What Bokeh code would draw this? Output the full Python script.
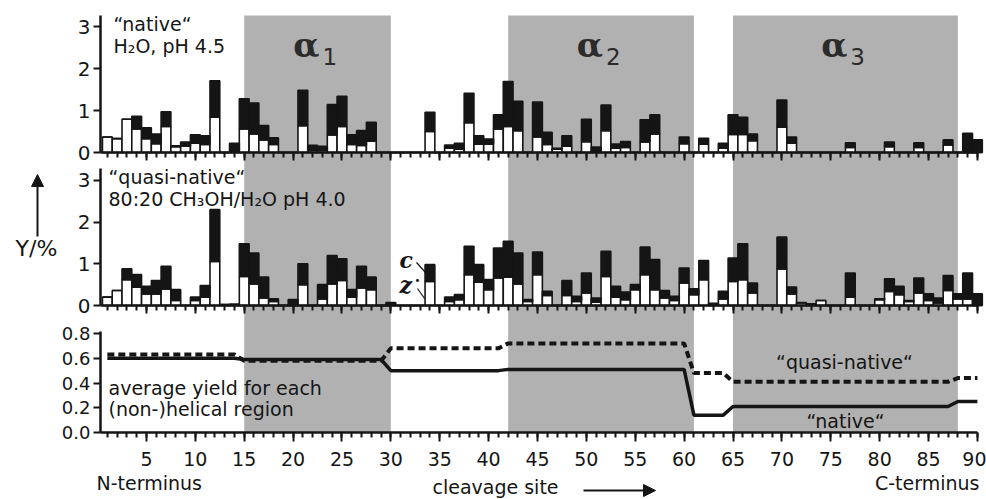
from bokeh.plotting import figure
from bokeh.models import (Range1d, LinearAxis, FixedTicker, Label, Arrow, NormalHead,
                          ColumnDataSource, PrintfTickFormatter)
from bokeh.embed import file_html
from bokeh.resources import INLINE

# ---------------- data ----------------
sites = list(range(1, 91))
native_z = [0.37, 0.33, 0.79, 0.56, 0.33, 0.21, 0.62, 0.14, 0.15, 0.22,
            0.19, 0.84, 0.00, 0.03, 0.56, 0.44, 0.30, 0.19, 0.00, 0.00,
            0.64, 0.05, 0.05, 0.42, 0.62, 0.19, 0.17, 0.27, 0.00, 0.00,
            0.00, 0.00, 0.00, 0.50, 0.00, 0.10, 0.08, 0.71, 0.20, 0.20,
            0.56, 0.62, 0.52, 0.00, 0.37, 0.19, 0.08, 0.15, 0.00, 0.26,
            0.03, 0.52, 0.10, 0.12, 0.00, 0.25, 0.44, 0.00, 0.00, 0.21,
            0.00, 0.20, 0.00, 0.10, 0.43, 0.43, 0.28, 0.00, 0.00, 0.60,
            0.22, 0.00, 0.00, 0.00, 0.00, 0.00, 0.12, 0.00, 0.00, 0.00,
            0.14, 0.00, 0.00, 0.12, 0.00, 0.00, 0.18, 0.00, 0.00, 0.00]
native_c = [0.00, 0.00, 0.00, 0.30, 0.26, 0.23, 0.35, 0.02, 0.10, 0.20,
            0.21, 0.87, 0.00, 0.19, 0.72, 0.74, 0.34, 0.16, 0.00, 0.00,
            0.84, 0.12, 0.10, 0.72, 0.72, 0.23, 0.35, 0.45, 0.00, 0.00,
            0.00, 0.00, 0.00, 0.46, 0.00, 0.08, 0.14, 0.70, 0.20, 0.12,
            0.34, 1.07, 0.70, 0.00, 0.83, 0.29, 0.02, 0.25, 0.00, 0.53,
            0.10, 0.61, 0.10, 0.14, 0.00, 0.53, 0.46, 0.00, 0.00, 0.16,
            0.00, 0.14, 0.00, 0.12, 0.47, 0.41, 0.16, 0.00, 0.00, 0.65,
            0.15, 0.00, 0.00, 0.00, 0.00, 0.00, 0.11, 0.00, 0.00, 0.00,
            0.11, 0.00, 0.00, 0.11, 0.00, 0.00, 0.12, 0.00, 0.46, 0.30]
quasi_z = [0.20, 0.36, 0.62, 0.44, 0.28, 0.28, 0.40, 0.12, 0.00, 0.12,
           0.20, 1.06, 0.02, 0.03, 0.70, 0.52, 0.18, 0.10, 0.00, 0.00,
           0.50, 0.00, 0.16, 0.52, 0.60, 0.20, 0.42, 0.38, 0.00, 0.00,
           0.00, 0.00, 0.00, 0.58, 0.00, 0.10, 0.14, 0.74, 0.56, 0.38,
           0.66, 0.68, 0.52, 0.10, 0.74, 0.24, 0.00, 0.24, 0.10, 0.30,
           0.08, 0.70, 0.20, 0.14, 0.38, 0.74, 0.38, 0.18, 0.12, 0.54,
           0.26, 0.62, 0.00, 0.16, 0.58, 0.62, 0.30, 0.00, 0.00, 0.88,
           0.28, 0.06, 0.04, 0.12, 0.00, 0.00, 0.20, 0.00, 0.00, 0.14,
           0.34, 0.26, 0.10, 0.30, 0.12, 0.06, 0.36, 0.16, 0.16, 0.00]
quasi_c = [0.00, 0.00, 0.26, 0.30, 0.18, 0.32, 0.54, 0.26, 0.00, 0.08,
           0.28, 1.24, 0.00, 0.00, 0.78, 0.74, 0.50, 0.06, 0.00, 0.14,
           0.50, 0.00, 0.34, 0.68, 0.52, 0.18, 0.52, 0.30, 0.00, 0.07,
           0.00, 0.00, 0.00, 0.40, 0.00, 0.10, 0.12, 0.68, 0.42, 0.24,
           0.72, 0.86, 0.74, 0.04, 0.54, 0.10, 0.00, 0.36, 0.12, 0.48,
           0.10, 0.60, 0.26, 0.18, 0.12, 0.66, 0.72, 0.18, 0.10, 0.36,
           0.14, 0.46, 0.05, 0.18, 0.56, 0.86, 0.24, 0.00, 0.00, 0.76,
           0.16, 0.01, 0.00, 0.00, 0.00, 0.00, 0.58, 0.00, 0.00, 0.02,
           0.30, 0.20, 0.02, 0.36, 0.16, 0.12, 0.36, 0.12, 0.62, 0.28]

helix_labels = ["1", "2", "3"]
helix_start = [15, 42, 65]
helix_end = [30, 61, 88]

region_first = [1, 15, 30, 42, 61, 65, 88]
region_last = [14, 29, 41, 60, 64, 87, 90]
native_avg = [0.60, 0.59, 0.50, 0.51, 0.14, 0.21, 0.25]
quasi_avg = [0.63, 0.58, 0.68, 0.72, 0.48, 0.41, 0.44]

x_major_ticks = list(range(5, 91, 5))
bar_y_ticks = [0, 1, 2, 3]
avg_y_ticks = [0.0, 0.2, 0.4, 0.6, 0.8]

# ---------------- geometry (whole canvas is the frame) ----------------
W, H = 986, 499
FONT = "DejaVu Sans"
INK = "#151515"
SHADE = "#b1b1b1"
PXU = 9.776            # pixels per cleavage site
X0 = 0.3               # site value at the y-axis spines (pixel 100)
SPINE_PX = 100
AXIS_BOTTOM_PX = 432   # bottom panel zero line
Y_SCALE = 123.75       # px per unit, bottom panel
TOP_PX = 15            # top of shaded area / panels
top_zero, top_scale = 152, 42.0
mid_zero, mid_scale = 305, 41.67


def xd(px):
    return X0 + (px - SPINE_PX) / PXU


def yd(py):
    return (AXIS_BOTTOM_PX - py) / Y_SCALE


p = figure(width=W, height=H, x_range=Range1d(xd(0), xd(W)), y_range=Range1d(yd(H), yd(0)),
           output_backend="svg", toolbar_location=None,
           x_axis_location=None, y_axis_location=None, min_border=0)
p.title.visible = False
p.outline_line_color = None
p.xgrid.visible = False
p.ygrid.visible = False
p.background_fill_color = "white"
p.border_fill_color = "white"

p.extra_y_ranges = {
    "top": Range1d((top_zero - H) / top_scale, top_zero / top_scale),
    "mid": Range1d((mid_zero - H) / mid_scale, mid_zero / mid_scale),
}

# shaded helix regions
p.quad(left=helix_start, right=helix_end, bottom=0, top=yd(TOP_PX),
       fill_color=SHADE, line_color=None, level="underlay")


# bars: white = z-ions, black = c-ions stacked on top
def add_bars(zv, cv, rng):
    src = ColumnDataSource(dict(site=sites, z=zv, zc=[a + b for a, b in zip(zv, cv)]))
    p.vbar(x="site", width=1.0, bottom=0, top="z", source=src, y_range_name=rng,
           fill_color="white", line_color=INK, line_width=1.6)
    p.vbar(x="site", width=1.0, bottom="z", top="zc", source=src, y_range_name=rng,
           fill_color=INK, line_color=INK, line_width=1.6)


add_bars(native_z, native_c, "top")
add_bars(quasi_z, quasi_c, "mid")


# averaged yields per (non-)helical region
def steps(first, last, vals):
    xs, ys = [], []
    for f, l, v in zip(first, last, vals):
        xs += [f, l]
        ys += [v, v]
    return xs, ys


qx, qy = steps(region_first, region_last, quasi_avg)
nx, ny = steps(region_first, region_last, native_avg)
p.line(qx, qy, line_color=INK, line_width=4, line_dash="7 4")
p.line(nx, ny, line_color=INK, line_width=3.5)


# axes
def style(ax, tick_out, minor_out, size, labels=True):
    ax.axis_line_width = 2.5
    ax.axis_line_color = INK
    ax.major_tick_line_width = 2
    ax.major_tick_line_color = INK
    ax.minor_tick_line_width = 2
    ax.minor_tick_line_color = INK
    ax.major_tick_in = 0
    ax.minor_tick_in = 0
    ax.major_tick_out = tick_out
    ax.minor_tick_out = minor_out
    ax.major_label_text_font = FONT
    ax.major_label_text_font_size = f"{size}px"
    ax.major_label_text_color = INK if labels else None


xb = LinearAxis(fixed_location=0, ticker=FixedTicker(ticks=x_major_ticks, minor_ticks=sites),
                bounds=(X0, 90))
style(xb, 9, 5, 19)
xb.major_label_standoff = 10
p.add_layout(xb, "below")

for rng in ["top", "mid"]:
    ax = LinearAxis(y_range_name=rng, fixed_location=0,
                    ticker=FixedTicker(ticks=x_major_ticks, minor_ticks=sites), bounds=(X0, 90))
    style(ax, 8, 5, 1, labels=False)
    p.add_layout(ax, "below")

yb = LinearAxis(fixed_location=X0, ticker=FixedTicker(ticks=avg_y_ticks), bounds=(0, 0.82),
                formatter=PrintfTickFormatter(format="%.1f"))
style(yb, 7, 0, 18)
yb.major_label_standoff = 3
p.add_layout(yb, "left")

for rng, top in [("top", 3.26), ("mid", 3.28)]:
    ay = LinearAxis(y_range_name=rng, fixed_location=X0, ticker=FixedTicker(ticks=bar_y_ticks),
                    bounds=(0, top))
    style(ay, 7, 0, 20)
    ay.major_label_standoff = 3
    p.add_layout(ay, "left")


# text: (px, baseline_py); drawn with a middle baseline
def lab(px, py_base, text, size=19, align="left", font=FONT, fstyle="normal", color=INK,
        x=None):
    py_mid = py_base - 0.35 * size
    p.add_layout(Label(x=xd(px) if x is None else x, y=yd(py_mid), text=text, text_font=font,
                       text_font_size=f"{size}px", text_align=align, text_baseline="middle",
                       text_font_style=fstyle, text_color=color))


lab(113, 30, "\u201cnative\u201c")
lab(113, 52, "H\u2082O, pH 4.5")
lab(108, 183, "\u201cquasi-native\u201c")
lab(108, 205, "80:20 CH\u2083OH/H\u2082O pH 4.0")

for s, e, t in zip(helix_start, helix_end, helix_labels):
    c = (s + e) / 2
    lab(0, 56, "\u03b1", size=34, align="right", font="DejaVu Serif", fstyle="bold",
        color="#2b2b2b", x=c + 0.2)
    lab(0, 64, t, size=23, align="left", color="#2b2b2b", x=c + 0.5)

lab(108, 394, "average yield for each")
lab(108, 415, "(non-)helical region")
lab(844, 368, "\u201cquasi-native\u201c", align="center")
lab(845, 427, "\u201cnative\u201c", align="center")

lab(96, 489, "N-terminus")
lab(979, 489, "C-terminus", align="right")
lab(495, 493, "cleavage site", align="center")
lab(36, 256, "Y/%", size=22, align="center")

# c / z markers on site 34 of the middle panel
lab(399, 267, "c", size=22, font="DejaVu Serif", fstyle="bold italic")
lab(399, 292, "z", size=22, font="DejaVu Serif", fstyle="bold italic")
lab(417, 283, "\u2022", size=10, align="center")
p.segment(x0=[xd(416), xd(417)], y0=[yd(262), yd(288)], x1=[xd(425), xd(424)],
          y1=[yd(272), yd(298)], line_color=INK, line_width=1.2)

# arrows
p.add_layout(Arrow(end=NormalHead(size=12, fill_color=INK, line_color=INK), line_color=INK,
                   line_width=2, x_start=xd(37), y_start=yd(236), x_end=xd(37), y_end=yd(174)))
p.add_layout(Arrow(end=NormalHead(size=12, fill_color=INK, line_color=INK), line_color=INK,
                   line_width=2, x_start=xd(583), y_start=yd(490), x_end=xd(655), y_end=yd(490)))

open("out.html", "w").write(file_html(p, INLINE))
